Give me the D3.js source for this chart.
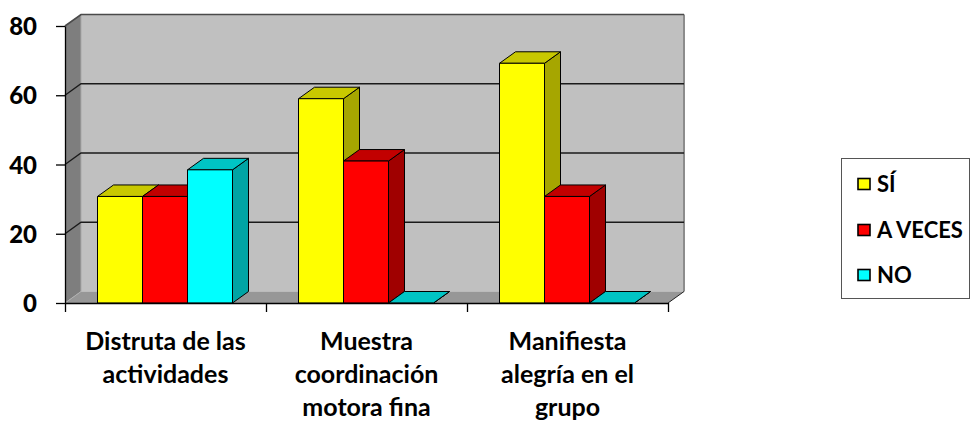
<!DOCTYPE html>
<html>
<head>
<meta charset="utf-8">
<script src="https://cdn.jsdelivr.net/npm/d3@7"></script>
<style>
  html, body { margin: 0; padding: 0; background: #fff; }
  svg { display: block; font-family: Lato, "Liberation Sans", sans-serif; font-weight: bold; }
</style>
</head>
<body>
<svg id="chart" width="971" height="421"></svg>
<script>
// Survey results per activity (percent of children)
const categories = ["Distruta de las actividades", "Muestra coordinación motora fina", "Manifiesta alegría en el grupo"];
const categoryLines = [["Distruta de las", "actividades"], ["Muestra", "coordinación", "motora fina"], ["Manifiesta", "alegría en el", "grupo"]];
const series = ["SÍ", "A VECES", "NO"];
const siValues = [30.77, 59, 69.23];
const aVecesValues = [30.77, 41, 30.77];
const noValues = [38.46, 0, 0];
const yTicks = [0, 20, 40, 60, 80];

const seriesValues = [siValues, aVecesValues, noValues];
const palette = {
  "SÍ":      { front: "#ffff00", top: "#c8c800", side: "#a6a600" },
  "A VECES": { front: "#ff0000", top: "#c20000", side: "#a00000" },
  "NO":      { front: "#00ffff", top: "#00c4c4", side: "#00a4a4" }
};

const svg = d3.select("#chart");

// plot frame (front plane) and 3D depth offset
const plotLeft = 65, plotRight = 668, plotBottom = 303, plotTop = 26;
const dx = 16, dy = -11.5;

const y = d3.scaleLinear().domain([0, 80]).range([plotBottom, plotTop]);
const x0 = d3.scaleBand().domain(d3.range(categories.length)).range([plotLeft, plotRight]);
const x1 = d3.scaleBand().domain(series).range([32.5, x0.bandwidth() - 33.5]);
const xEdges = d3.scaleLinear().domain([0, categories.length]).range([plotLeft, plotRight]);

const poly = pts => pts.map(p => p.join(",")).join(" ");

// walls
const walls = svg.append("g");
walls.append("rect")
  .attr("x", plotLeft + dx).attr("y", y(80) + dy)
  .attr("width", plotRight - plotLeft).attr("height", plotBottom - y(80))
  .attr("fill", "#c0c0c0");
walls.append("polygon")
  .attr("points", poly([[plotLeft, y(80)], [plotLeft + dx, y(80) + dy], [plotLeft + dx, plotBottom + dy], [plotLeft, plotBottom]]))
  .attr("fill", "#7e7e7e");
walls.append("polygon")
  .attr("points", poly([[plotLeft, plotBottom], [plotRight, plotBottom], [plotRight + dx, plotBottom + dy], [plotLeft + dx, plotBottom + dy]]))
  .attr("fill", "#979797");
// wall edges
walls.append("line")
  .attr("x1", plotRight + dx).attr("x2", plotRight + dx)
  .attr("y1", y(80) + dy).attr("y2", plotBottom + dy)
  .attr("stroke", "#8c8c8c").attr("stroke-width", 2);
walls.append("line")
  .attr("x1", plotLeft + dx).attr("x2", plotLeft + dx)
  .attr("y1", y(80) + dy).attr("y2", plotBottom + dy)
  .attr("stroke", "#a8a8a8").attr("stroke-width", 1);
walls.append("line")
  .attr("x1", plotLeft).attr("y1", plotBottom)
  .attr("x2", plotLeft + dx).attr("y2", plotBottom + dy)
  .attr("stroke", "#b0b0b0").attr("stroke-width", 1);
walls.append("line")
  .attr("x1", plotRight).attr("y1", plotBottom)
  .attr("x2", plotRight + dx).attr("y2", plotBottom + dy)
  .attr("stroke", "#222").attr("stroke-width", 1);

// gridlines on the side and back walls
const grid = svg.append("g");
yTicks.filter(t => t > 0).forEach(t => {
  const c = t === 80 ? "#4a4a4a" : "#1a1a1a";
  const w = t === 80 ? 1.6 : 1.3;
  grid.append("polyline")
    .attr("points", poly([[plotLeft, y(t)], [plotLeft + dx, y(t) + dy], [plotRight + dx, y(t) + dy]]))
    .attr("fill", "none").attr("stroke", c).attr("stroke-width", w);
});

// bars: front face, top face, right side face
const bars = svg.append("g").attr("stroke", "#000").attr("stroke-width", 1).attr("stroke-linejoin", "round");
categories.forEach((c, i) => {
  series.forEach((s, j) => {
    const v = seriesValues[j][i];
    const bx = x0(i) + x1(s), bw = x1.bandwidth();
    const by = y(v), col = palette[s];
    const g = bars.append("g");
    g.append("polygon")
      .attr("points", poly([[bx + bw, by], [bx + bw + dx, by + dy], [bx + bw + dx, plotBottom + dy], [bx + bw, plotBottom]]))
      .attr("fill", col.side);
    g.append("polygon")
      .attr("points", poly([[bx, by], [bx + dx, by + dy], [bx + bw + dx, by + dy], [bx + bw, by]]))
      .attr("fill", col.top);
    g.append("rect")
      .attr("x", bx).attr("y", by)
      .attr("width", bw).attr("height", plotBottom - by)
      .attr("fill", col.front);
  });
});

// axes
const yAxis = svg.append("g")
  .attr("transform", `translate(${plotLeft},0)`)
  .call(d3.axisLeft(y).tickValues(yTicks).tickSizeInner(9).tickSizeOuter(0).tickPadding(19));
yAxis.select(".domain").attr("stroke", "#000").attr("stroke-width", 1.3);
yAxis.selectAll(".tick line").attr("stroke", "#000").attr("stroke-width", 1.3);
yAxis.selectAll(".tick text")
  .attr("fill", "#000").attr("font-size", 24).attr("font-weight", 900)
  .attr("font-family", "Lato, 'Liberation Sans', sans-serif").attr("dy", "0.36em");

const xAxis = svg.append("g")
  .attr("transform", `translate(0,${plotBottom})`)
  .call(d3.axisBottom(xEdges).tickValues(d3.range(categories.length + 1)).tickFormat("").tickSizeInner(9).tickSizeOuter(0));
xAxis.select(".domain").attr("stroke", "#000").attr("stroke-width", 1.3);
xAxis.selectAll(".tick line").attr("stroke", "#000").attr("stroke-width", 1.3);

// category labels
const labels = svg.append("g").attr("font-size", 25).attr("fill", "#000").attr("text-anchor", "middle");
categoryLines.forEach((lines, i) => {
  const cx = x0(i) + x0.bandwidth() / 2;
  lines.forEach((ln, k) => {
    labels.append("text")
      .attr("x", cx).attr("y", 350 + k * 33)
      .text(ln);
  });
});

// legend
const legend = svg.append("g");
legend.append("rect")
  .attr("x", 841.5).attr("y", 158.5).attr("width", 128).attr("height", 140)
  .attr("fill", "#fff").attr("stroke", "#555").attr("stroke-width", 1);
const legendY = [184, 230, 275];
series.forEach((s, j) => {
  legend.append("rect")
    .attr("x", 858).attr("y", legendY[j] - 5.5).attr("width", 12).attr("height", 11)
    .attr("fill", palette[s].front).attr("stroke", "#000").attr("stroke-width", 1.6);
  legend.append("text")
    .attr("x", 877).attr("y", legendY[j]).attr("dy", "0.36em")
    .attr("font-size", 22).attr("fill", "#000")
    .text(s);
});
</script>
</body>
</html>
